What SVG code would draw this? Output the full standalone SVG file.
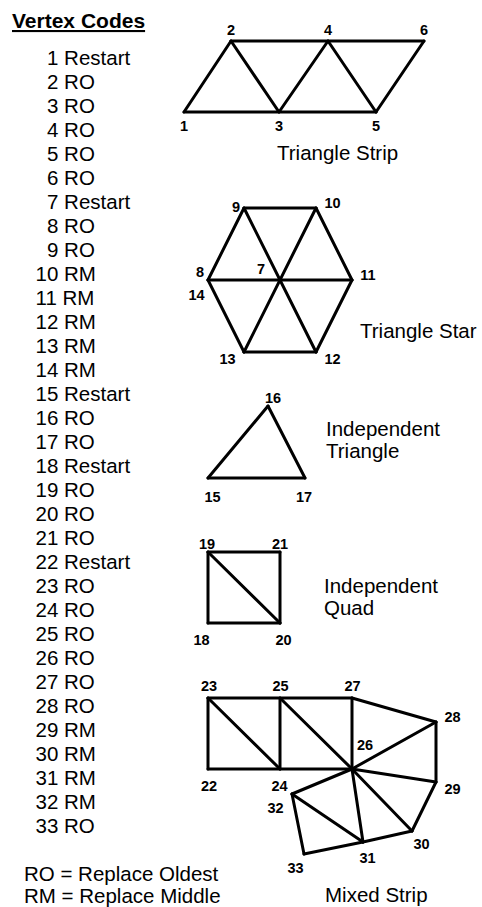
<svg xmlns="http://www.w3.org/2000/svg" width="482" height="907" viewBox="0 0 482 907">
<style>
.t{font-family:"Liberation Sans",Arial,sans-serif;font-size:20.5px;fill:#000}
.h{font-family:"Liberation Sans",Arial,sans-serif;font-size:21px;font-weight:bold;fill:#000;text-decoration:underline}
.n{font-family:"Liberation Sans",Arial,sans-serif;font-size:14.5px;font-weight:bold;fill:#000;text-anchor:middle}
.e line{stroke:#000;stroke-width:3;stroke-linecap:round}
</style>
<rect width="482" height="907" fill="#fff"/>
<g id="legend">
<text class="h" x="12" y="28">Vertex Codes</text>
<text class="t" x="47" y="64.5">1 Restart</text>
<text class="t" x="47" y="88.5">2 RO</text>
<text class="t" x="47" y="112.5">3 RO</text>
<text class="t" x="47" y="136.5">4 RO</text>
<text class="t" x="47" y="160.5">5 RO</text>
<text class="t" x="47" y="184.5">6 RO</text>
<text class="t" x="47" y="208.5">7 Restart</text>
<text class="t" x="47" y="232.5">8 RO</text>
<text class="t" x="47" y="256.5">9 RO</text>
<text class="t" x="35.5" y="280.5">10 RM</text>
<text class="t" x="35.5" y="304.5">11 RM</text>
<text class="t" x="35.5" y="328.5">12 RM</text>
<text class="t" x="35.5" y="352.5">13 RM</text>
<text class="t" x="35.5" y="376.5">14 RM</text>
<text class="t" x="35.5" y="400.5">15 Restart</text>
<text class="t" x="35.5" y="424.5">16 RO</text>
<text class="t" x="35.5" y="448.5">17 RO</text>
<text class="t" x="35.5" y="472.5">18 Restart</text>
<text class="t" x="35.5" y="496.5">19 RO</text>
<text class="t" x="35.5" y="520.5">20 RO</text>
<text class="t" x="35.5" y="544.5">21 RO</text>
<text class="t" x="35.5" y="568.5">22 Restart</text>
<text class="t" x="35.5" y="592.5">23 RO</text>
<text class="t" x="35.5" y="616.5">24 RO</text>
<text class="t" x="35.5" y="640.5">25 RO</text>
<text class="t" x="35.5" y="664.5">26 RO</text>
<text class="t" x="35.5" y="688.5">27 RO</text>
<text class="t" x="35.5" y="712.5">28 RO</text>
<text class="t" x="35.5" y="736.5">29 RM</text>
<text class="t" x="35.5" y="760.5">30 RM</text>
<text class="t" x="35.5" y="784.5">31 RM</text>
<text class="t" x="35.5" y="808.5">32 RM</text>
<text class="t" x="35.5" y="832.5">33 RO</text>
<text class="t" x="24" y="881">RO = Replace Oldest</text>
<text class="t" x="24" y="903">RM = Replace Middle</text>
</g>
<g id="connectors" class="e">
<!-- triangle strip -->
<line x1="184" y1="112" x2="376" y2="112"/>
<line x1="231" y1="41" x2="424" y2="41"/>
<line x1="184" y1="112" x2="231" y2="41"/>
<line x1="231" y1="41" x2="279" y2="112"/>
<line x1="279" y1="112" x2="328" y2="41"/>
<line x1="328" y1="41" x2="376" y2="112"/>
<line x1="376" y1="112" x2="424" y2="41"/>
<!-- triangle star -->
<line x1="244" y1="208" x2="316" y2="208"/>
<line x1="316" y1="208" x2="352" y2="280"/>
<line x1="352" y1="280" x2="316" y2="352"/>
<line x1="316" y1="352" x2="244" y2="352"/>
<line x1="244" y1="352" x2="208" y2="280"/>
<line x1="208" y1="280" x2="244" y2="208"/>
<line x1="208" y1="280" x2="352" y2="280"/>
<line x1="244" y1="208" x2="316" y2="352"/>
<line x1="316" y1="208" x2="244" y2="352"/>
<!-- independent triangle -->
<line x1="208" y1="478" x2="305" y2="478"/>
<line x1="208" y1="478" x2="268" y2="406"/>
<line x1="268" y1="406" x2="305" y2="478"/>
<!-- independent quad -->
<line x1="208" y1="552" x2="280" y2="552"/>
<line x1="280" y1="552" x2="280" y2="623"/>
<line x1="280" y1="623" x2="208" y2="623"/>
<line x1="208" y1="623" x2="208" y2="552"/>
<line x1="208" y1="552" x2="280" y2="623"/>
<!-- mixed strip -->
<line x1="208" y1="698" x2="352" y2="698"/>
<line x1="208" y1="769" x2="352" y2="769"/>
<line x1="208" y1="698" x2="208" y2="769"/>
<line x1="280" y1="698" x2="280" y2="769"/>
<line x1="352" y1="698" x2="352" y2="769"/>
<line x1="208" y1="698" x2="280" y2="769"/>
<line x1="280" y1="698" x2="352" y2="769"/>
<line x1="352" y1="698" x2="436" y2="722"/>
<line x1="436" y1="722" x2="352" y2="769"/>
<line x1="436" y1="722" x2="436" y2="782"/>
<line x1="436" y1="782" x2="352" y2="769"/>
<line x1="436" y1="782" x2="412" y2="831"/>
<line x1="412" y1="831" x2="352" y2="769"/>
<line x1="412" y1="831" x2="363" y2="842"/>
<line x1="363" y1="842" x2="352" y2="769"/>
<line x1="363" y1="842" x2="292" y2="794"/>
<line x1="292" y1="794" x2="352" y2="769"/>
<line x1="292" y1="794" x2="304" y2="854"/>
<line x1="304" y1="854" x2="363" y2="842"/>
</g>
<g id="strip">
<text class="n" x="184" y="131">1</text>
<text class="n" x="231" y="35">2</text>
<text class="n" x="279" y="131">3</text>
<text class="n" x="328" y="35">4</text>
<text class="n" x="376" y="131">5</text>
<text class="n" x="424" y="35">6</text>
<text class="t" x="277" y="160">Triangle Strip</text>
</g>
<g id="star">
<text class="n" x="261" y="274">7</text>
<text class="n" x="200" y="277">8</text>
<text class="n" x="236" y="212">9</text>
<text class="n" x="332.5" y="207.5">10</text>
<text class="n" x="368" y="280">11</text>
<text class="n" x="332.5" y="363.5">12</text>
<text class="n" x="227.5" y="363.5">13</text>
<text class="n" x="196.5" y="299.5">14</text>
<text class="t" x="360" y="338">Triangle Star</text>
</g>
<g id="triangle">
<text class="n" x="212.5" y="502">15</text>
<text class="n" x="273" y="403">16</text>
<text class="n" x="304" y="502">17</text>
<text class="t" x="326" y="436">Independent</text>
<text class="t" x="326" y="458">Triangle</text>
</g>
<g id="quad">
<text class="n" x="201.5" y="645">18</text>
<text class="n" x="207" y="548.5">19</text>
<text class="n" x="283.5" y="645">20</text>
<text class="n" x="280" y="548.5">21</text>
<text class="t" x="324" y="592.5">Independent</text>
<text class="t" x="324" y="614.5">Quad</text>
</g>
<g id="mixed">
<text class="n" x="209" y="791">22</text>
<text class="n" x="209" y="691">23</text>
<text class="n" x="279.5" y="791">24</text>
<text class="n" x="280.5" y="691">25</text>
<text class="n" x="365" y="750">26</text>
<text class="n" x="352.5" y="691">27</text>
<text class="n" x="452.5" y="722">28</text>
<text class="n" x="452.5" y="794">29</text>
<text class="n" x="421.5" y="848.5">30</text>
<text class="n" x="367.5" y="863">31</text>
<text class="n" x="275.5" y="812.5">32</text>
<text class="n" x="295.5" y="872.5">33</text>
<text class="t" x="325" y="902">Mixed Strip</text>
</g>
</svg>
